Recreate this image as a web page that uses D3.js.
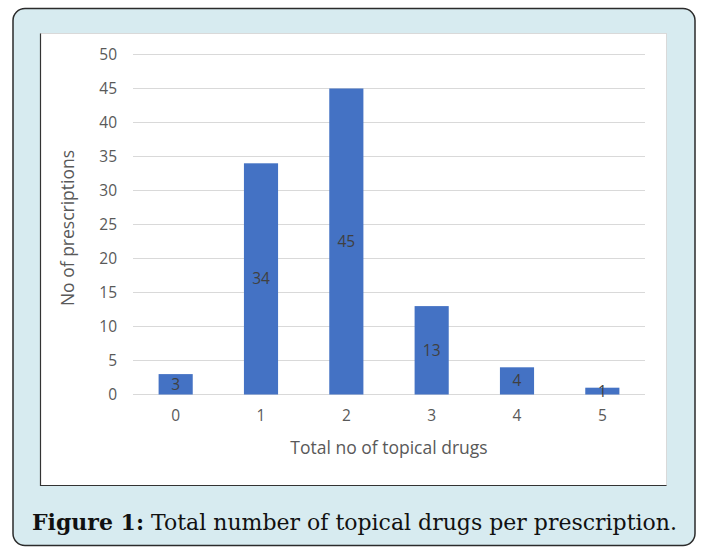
<!DOCTYPE html>
<html>
<head>
<meta charset="utf-8">
<script src="https://cdn.jsdelivr.net/npm/d3@7"></script>
<style>
  body { margin: 0; background: #ffffff; }
  svg { display: block; }
</style>
</head>
<body>
<div id="chart"></div>
<script>
// data
const categories = ["0", "1", "2", "3", "4", "5"]
const prescriptions = [3, 34, 45, 13, 4, 1]
const yTicks = [0, 5, 10, 15, 20, 25, 30, 35, 40, 45, 50]

const width = 701
const height = 547

let svg = d3.select("#chart")
  .append("svg")
  .attr("width", width)
  .attr("height", height)

//outer panel
svg.append("rect")
  .attr("x", 13)
  .attr("y", 8.5)
  .attr("width", 682)
  .attr("height", 537)
  .attr("rx", 12)
  .attr("fill", "#d7ebf0")
  .attr("stroke", "#2b2b2b")
  .attr("stroke-width", 1.5)

//white chart area
svg.append("rect")
  .attr("x", 40.5)
  .attr("y", 33.5)
  .attr("width", 626)
  .attr("height", 452)
  .attr("fill", "#ffffff")
  .attr("stroke", "#d9d9d9")
svg.append("path")
  .attr("d", "M40.5,33.5 V485.5 H666.5")
  .attr("fill", "none")
  .attr("stroke", "#333333")
  .attr("stroke-width", 1.2)

let x = d3.scaleBand()
  .domain(categories)
  .range([133, 645])
  .paddingInner(0.6)
  .paddingOuter(0.3)

let y = d3.scaleLinear()
  .domain([0, 50])
  .range([394.5, 54.5])

//grid lines
svg.append("g")
  .selectAll("line")
  .data(yTicks)
  .enter().append("line")
  .attr("x1", 133)
  .attr("x2", 645)
  .attr("y1", d => y(d))
  .attr("y2", d => y(d))
  .attr("stroke", "#d9d9d9")
  .attr("stroke-width", 1)

//y axis labels
let yAxis = svg.append("g")
  .attr("transform", "translate(117,0)")
  .call(d3.axisLeft(y).tickValues(yTicks).tickSize(0).tickPadding(0))
yAxis.select(".domain").remove()
yAxis.selectAll("text")
  .style("font-family", "'Open Sans', sans-serif")
  .style("font-size", "15.5px")
  .attr("fill", "#595959")

//bars
svg.append("g")
  .selectAll("rect")
  .data(prescriptions)
  .enter().append("rect")
  .attr("x", (d, i) => x(categories[i]))
  .attr("y", d => y(d))
  .attr("width", x.bandwidth())
  .attr("height", d => y(0) - y(d))
  .attr("fill", "#4472c4")

//value labels in the middle of each bar
svg.append("g")
  .selectAll("text")
  .data(prescriptions)
  .enter().append("text")
  .attr("x", (d, i) => x(categories[i]) + x.bandwidth() / 2)
  .attr("y", d => (y(d) + y(0)) / 2)
  .attr("dy", "0.35em")
  .attr("text-anchor", "middle")
  .style("font-family", "'Open Sans', sans-serif")
  .style("font-size", "15.5px")
  .attr("fill", "#404040")
  .text(d => d)

//x axis labels
let xAxis = svg.append("g")
  .attr("transform", "translate(0,410)")
  .call(d3.axisBottom(x).tickSize(0).tickPadding(0))
xAxis.select(".domain").remove()
xAxis.selectAll("text")
  .style("font-family", "'Open Sans', sans-serif")
  .style("font-size", "15.5px")
  .attr("fill", "#595959")

//axis titles
svg.append("text")
  .text("Total no of topical drugs")
  .attr("x", 389)
  .attr("y", 454)
  .attr("text-anchor", "middle")
  .style("font-family", "'Open Sans', sans-serif")
  .style("font-size", "17.5px")
  .attr("fill", "#595959")

svg.append("text")
  .text("No of prescriptions")
  .attr("transform", "translate(74,228) rotate(-90)")
  .attr("text-anchor", "middle")
  .style("font-family", "'Open Sans', sans-serif")
  .style("font-size", "17.5px")
  .attr("fill", "#595959")

//caption
let caption = svg.append("text")
  .attr("x", 32)
  .attr("y", 530)
  .style("font-family", "'DejaVu Serif', serif")
  .style("font-size", "22px")
  .attr("fill", "#111111")
caption.append("tspan")
  .style("font-weight", "bold")
  .text("Figure 1:")
caption.append("tspan")
  .text(" Total number of topical drugs per prescription.")
</script>
</body>
</html>
